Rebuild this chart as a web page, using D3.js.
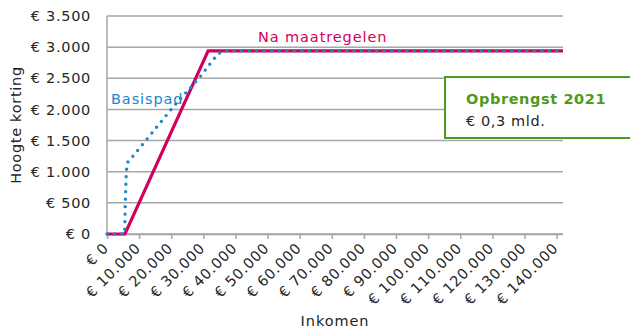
<!DOCTYPE html>
<html><head><meta charset="utf-8">
<script src="https://cdn.jsdelivr.net/npm/d3@7"></script>
<style>body{margin:0;background:#fff}svg{display:block}text{font-family:"DejaVu Sans",Verdana,sans-serif}</style>
</head><body>
<svg id="c" width="630" height="328"></svg>
<script>
const yTicks = [0, 500, 1000, 1500, 2000, 2500, 3000, 3500];
const xTicks = [0,10000,20000,30000,40000,50000,60000,70000,80000,90000,100000,110000,120000,130000,140000];
const xMax = 142000;
const naIncome = [0, 5600, 31500, 142000];
const naValue  = [0, 0, 2940, 2940];
const basisIncome = [0, 5500, 5700, 6000, 6400, 8000, 12700, 20600, 29000, 33300, 34900, 37300, 142000];
const basisValue  = [0, 0, 500, 1000, 1150, 1245, 1540, 2040, 2524, 2813, 2905, 2940, 2940];
const labels = {yTitle:"Hoogte korting", xTitle:"Inkomen", na:"Na maatregelen", basis:"Basispad", boxTitle:"Opbrengst 2021", boxValue:"€ 0,3 mld."};

const fmt = v => "€ " + d3.format(",")(v).replace(/,/g, ".");
const svg = d3.select("#c");
const L=107, R=563, T=16, B=234;
const x = d3.scaleLinear().domain([0,xMax]).range([L,R]);
const y = d3.scaleLinear().domain([0,3500]).range([B,T]);
const grid="#a6a6a6";
const txt="#262626";

svg.append("g").selectAll("line").data(yTicks).join("line")
  .attr("x1",L).attr("x2",R).attr("y1",d=>y(d)).attr("y2",d=>y(d))
  .attr("stroke",grid).attr("stroke-width",1.5);
svg.append("line").attr("x1",L).attr("x2",L).attr("y1",T).attr("y2",B).attr("stroke",grid).attr("stroke-width",1.5);
svg.append("g").selectAll("text").data(yTicks).join("text")
  .attr("x",91).attr("y",d=>y(d)).attr("dy","0.35em").attr("text-anchor","end")
  .attr("font-size",14.5).attr("letter-spacing",0.7).attr("fill",txt).text(fmt);

const xa = svg.append("g").attr("transform",`translate(0,${B})`)
  .call(d3.axisBottom(x).tickValues(xTicks).tickSize(5).tickFormat(fmt));
xa.select(".domain").attr("stroke",grid).attr("stroke-width",1.5).attr("d",`M${L},0.5H${R}`);
xa.selectAll(".tick line").attr("stroke",grid).attr("stroke-width",1.5);
xa.selectAll(".tick text").attr("font-size",14.5).attr("letter-spacing",0.7).attr("fill",txt)
  .attr("font-family","DejaVu Sans")
  .attr("text-anchor","end").attr("dy","0").attr("y",0)
  .attr("transform","translate(2,15) rotate(-45)");

const line = d3.line().x(d=>x(d[0])).y(d=>y(d[1]));
svg.append("path").datum(naIncome.map((v,i)=>[v,naValue[i]]))
  .attr("d",line).attr("fill","none").attr("stroke","#d1005c").attr("stroke-width",3.2).attr("stroke-linejoin","miter");
svg.append("path").datum(basisIncome.map((v,i)=>[v,basisValue[i]]))
  .attr("d",line).attr("fill","none").attr("stroke","#1a86d1").attr("stroke-width",3.4)
  .attr("stroke-linecap","round").attr("stroke-dasharray","0 7.5");

svg.append("text").attr("x",258).attr("y",42).attr("font-size",14.5).attr("letter-spacing",0.9).attr("fill","#d1005c").text(labels.na);
svg.append("text").attr("x",111).attr("y",104).attr("font-size",14.5).attr("letter-spacing",0.9).attr("fill","#1a86d1").text(labels.basis);
svg.append("text").attr("transform","translate(21,125) rotate(-90)").attr("text-anchor","middle")
  .attr("font-size",14.5).attr("letter-spacing",0.7).attr("fill",txt).text(labels.yTitle);
svg.append("text").attr("x",335).attr("y",326).attr("text-anchor","middle")
  .attr("font-size",14.5).attr("letter-spacing",0.9).attr("fill",txt).text(labels.xTitle);

svg.append("rect").attr("x",445).attr("y",77).attr("width",200).attr("height",61)
  .attr("fill","#fff").attr("stroke","#4e9a1e").attr("stroke-width",2);
svg.append("text").attr("x",466).attr("y",104).attr("font-size",14.5).attr("font-weight","bold").attr("letter-spacing",0.6)
  .attr("fill","#4e9a1e").text(labels.boxTitle);
svg.append("text").attr("x",466).attr("y",126).attr("font-size",14.5).attr("letter-spacing",0.6)
  .attr("fill",txt).text(labels.boxValue);
</script>
</body></html>
